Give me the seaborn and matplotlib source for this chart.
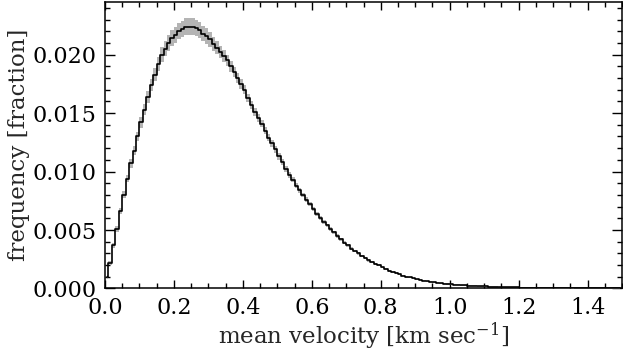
import numpy as np
import pandas as pd
import seaborn as sns
import matplotlib.pyplot as plt
from matplotlib.ticker import MultipleLocator

# histogram fractions, bins of 0.01 km/s starting at 0
frac = [0.0010, 0.0022, 0.0037, 0.0051, 0.0066, 0.0080, 0.0094, 0.0107, 0.0118, 0.0130,
        0.0142, 0.0153, 0.0164, 0.0174, 0.0183, 0.0192, 0.0200, 0.0205, 0.0210, 0.0214,
        0.0217, 0.0220, 0.0222, 0.0224, 0.0224, 0.0224, 0.0223, 0.0221, 0.0218, 0.0216,
        0.0213, 0.0209, 0.0206, 0.0202, 0.0199, 0.0195, 0.0190, 0.0185, 0.0180, 0.0175,
        0.0170, 0.0163, 0.0157, 0.0151, 0.0146, 0.0141, 0.0135, 0.0129, 0.0124, 0.0119,
        0.0113, 0.0108, 0.0102, 0.0097, 0.0093, 0.0088, 0.0084, 0.0080, 0.0076, 0.0072,
        0.0068, 0.0064, 0.0060, 0.0057, 0.0054, 0.0051, 0.0048, 0.0045, 0.0042, 0.0039,
        0.0037, 0.0034, 0.0032, 0.0030, 0.0028, 0.0026, 0.0024, 0.0023, 0.0021, 0.0020,
        0.0018, 0.0017, 0.0015, 0.0014, 0.0013, 0.0012, 0.0011, 0.0010, 0.00095, 0.00088,
        0.00080, 0.00074, 0.00068, 0.00062, 0.00057, 0.00053, 0.00049, 0.00046, 0.00042, 0.00039,
        0.00036, 0.00034, 0.00031, 0.00029, 0.00027, 0.00025, 0.00023, 0.00022, 0.00020, 0.00019,
        0.00018, 0.00016, 0.00015, 0.00014, 0.00013, 0.00012, 0.00011, 0.00010, 0.00010, 0.00009,
        0.00008, 0.00008, 0.00007, 0.00007, 0.00006, 0.00006, 0.00005, 0.00005, 0.00005, 0.00004,
        0.00004, 0.00004, 0.00003, 0.00003, 0.00003, 0.00003, 0.00002, 0.00002, 0.00002, 0.00002,
        0.00002, 0.00002, 0.00001, 0.00001, 0.00001, 0.00001, 0.00001, 0.00001, 0.00001, 0.00001]

# uncertainty per bin (grey band)
err = ([0.00015, 0.00018, 0.00021, 0.00024, 0.00027, 0.00030, 0.00033, 0.00036, 0.00039, 0.00042,
        0.00045, 0.00048, 0.00051, 0.00054, 0.00057, 0.00060, 0.00062, 0.00064, 0.00066, 0.00068,
        0.00069, 0.00070, 0.00071, 0.00072, 0.00072, 0.00071, 0.00070, 0.00069, 0.00067, 0.00065,
        0.00062, 0.00059, 0.00056, 0.00053, 0.00050, 0.00048, 0.00046, 0.00044, 0.00042, 0.00040,
        0.00038, 0.00036, 0.00035, 0.00034, 0.00033, 0.00032, 0.00031, 0.00030, 0.00029, 0.00028,
        0.00027, 0.00026, 0.00025, 0.00024, 0.00023, 0.00022, 0.00021, 0.00020, 0.00019, 0.00018,
        0.00018, 0.00017, 0.00016, 0.00016, 0.00015, 0.00015, 0.00014, 0.00014, 0.00013, 0.00013,
        0.00012, 0.00012, 0.00011, 0.00011, 0.00010, 0.00010, 0.00010, 0.00009, 0.00009, 0.00009,
        0.00008, 0.00008, 0.00008, 0.00007, 0.00007, 0.00007, 0.00006, 0.00006, 0.00006, 0.00006]
       + [0.00005] * 10 + [0.00004] * 20 + [0.00003] * 30)

bin_width = 0.01
centers = bin_width * (np.arange(len(frac)) + 0.5)

df = pd.DataFrame({"v": centers, "frac": frac, "err": err})

sns.set_theme(style="ticks")
plt.rcParams["font.family"] = ["DejaVu Serif"]
plt.rcParams["mathtext.fontset"] = "dejavuserif"

fig = plt.figure(figsize=(6.23, 3.52), dpi=100)
ax = fig.add_axes([0.1685, 0.1804, 0.83, 0.8139])

ax.fill_between(df["v"], df["frac"] - df["err"], df["frac"] + df["err"],
                step="mid", color="#b4b4b4", lw=0)
sns.lineplot(data=df, x="v", y="frac", ax=ax, color="black", lw=1.2,
             drawstyle="steps-mid")

ax.set_xlim(0, 1.5)
ax.set_ylim(0, 0.0245)
ax.xaxis.set_major_locator(MultipleLocator(0.2))
ax.xaxis.set_minor_locator(MultipleLocator(0.05))
ax.yaxis.set_major_locator(MultipleLocator(0.005))
ax.yaxis.set_minor_locator(MultipleLocator(0.001))
ax.xaxis.set_major_formatter(plt.FuncFormatter(lambda v, p: "%.1f" % v))
ax.yaxis.set_major_formatter(plt.FuncFormatter(lambda v, p: "%.3f" % v))

ax.tick_params(axis="both", which="both", direction="in", top=True, right=True,
               colors="black", labelsize=16, width=1.0)
ax.tick_params(axis="x", which="major", length=5.5, pad=6)
ax.tick_params(axis="x", which="minor", length=3.5)
ax.tick_params(axis="y", which="major", length=7, pad=6)
ax.tick_params(axis="y", which="minor", length=3.5)
for s in ax.spines.values():
    s.set_linewidth(1.1)
    s.set_color("black")

ax.set_xlabel(r"mean velocity [km sec$^{-1}$]", fontsize=16.5, labelpad=1)
ax.set_ylabel("frequency [fraction]", fontsize=16.5, labelpad=2)

plt.savefig("out.png", dpi=100)
